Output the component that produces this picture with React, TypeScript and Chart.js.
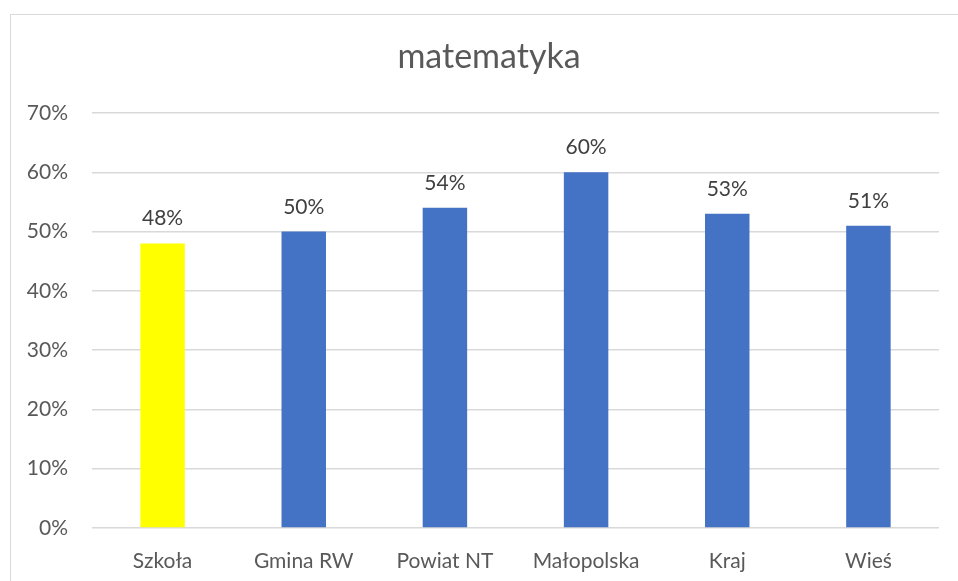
import React, { useEffect, useRef } from "react";
import { Chart, registerables } from "chart.js";

Chart.register(...registerables);

const TITLE = "matematyka";
const CATEGORIES = ["Szkoła", "Gmina RW", "Powiat NT", "Małopolska", "Kraj", "Wieś"];
const VALUES = [48, 50, 54, 60, 53, 51];
const BAR_COLORS = ["#FFFF00", "#4472C4", "#4472C4", "#4472C4", "#4472C4", "#4472C4"];
const Y_MIN = 0;
const Y_MAX = 70;
const Y_STEP = 10;

const FONT = "Lato, 'Open Sans', sans-serif";

const frameAndTitle = {
  id: "frameAndTitle",
  beforeDraw(chart: any) {
    const ctx = chart.ctx;
    ctx.save();
    ctx.fillStyle = "#ffffff";
    ctx.fillRect(0, 0, chart.width, chart.height);
    ctx.strokeStyle = "#d9d9d9";
    ctx.lineWidth = 1;
    ctx.strokeRect(10.5, 14.5, 2000, 2000);
    ctx.fillStyle = "#595959";
    ctx.font = `34px ${FONT}`;
    ctx.textAlign = "center";
    ctx.textBaseline = "alphabetic";
    ctx.fillText(TITLE, 489, 68);
    ctx.restore();
  },
};

const dataLabels = {
  id: "dataLabels",
  afterDatasetsDraw(chart: any) {
    const ctx = chart.ctx;
    const meta = chart.getDatasetMeta(0);
    const data = chart.data.datasets[0].data;
    ctx.save();
    ctx.fillStyle = "#404040";
    ctx.font = `21px ${FONT}`;
    ctx.textAlign = "center";
    ctx.textBaseline = "alphabetic";
    meta.data.forEach((bar: any, i: number) => {
      ctx.fillText(`${data[i]}%`, bar.x, bar.y - 18);
    });
    ctx.restore();
  },
};

export default function App() {
  const ref = useRef<HTMLCanvasElement | null>(null);

  useEffect(() => {
    document.body.style.margin = "0";
    const chart = new Chart(ref.current as HTMLCanvasElement, {
      type: "bar",
      data: {
        labels: CATEGORIES,
        datasets: [
          {
            data: VALUES,
            backgroundColor: BAR_COLORS,
            borderWidth: 0,
            barPercentage: 0.315,
            categoryPercentage: 1,
          },
        ],
      },
      options: {
        responsive: false,
        animation: false,
        layout: { padding: { left: 10, right: 19, top: 113, bottom: 0 } },
        plugins: {
          legend: { display: false },
          title: { display: false },
          tooltip: { enabled: false },
        },
        scales: {
          x: {
            grid: { display: false, drawTicks: false },
            border: { display: false },
            ticks: {
              color: "#595959",
              font: { family: FONT, size: 21 },
              padding: 21,
              maxRotation: 0,
            },
            afterFit: (s: any) => {
              s.height = 53;
            },
          },
          y: {
            min: Y_MIN,
            max: Y_MAX,
            grid: { color: "#d9d9d9", lineWidth: 1.5, drawTicks: false },
            border: { display: false },
            ticks: {
              stepSize: Y_STEP,
              color: "#595959",
              font: { family: FONT, size: 21 },
              padding: 24,
              callback: (v: any) => `${v}%`,
            },
            afterFit: (s: any) => {
              s.width = 82;
            },
          },
        },
      },
      plugins: [frameAndTitle, dataLabels],
    });
    return () => chart.destroy();
  }, []);

  return (
    <div style={{ position: "absolute", left: 0, top: 0, width: 958, height: 581 }}>
      <canvas ref={ref} width={958} height={581} />
    </div>
  );
}
